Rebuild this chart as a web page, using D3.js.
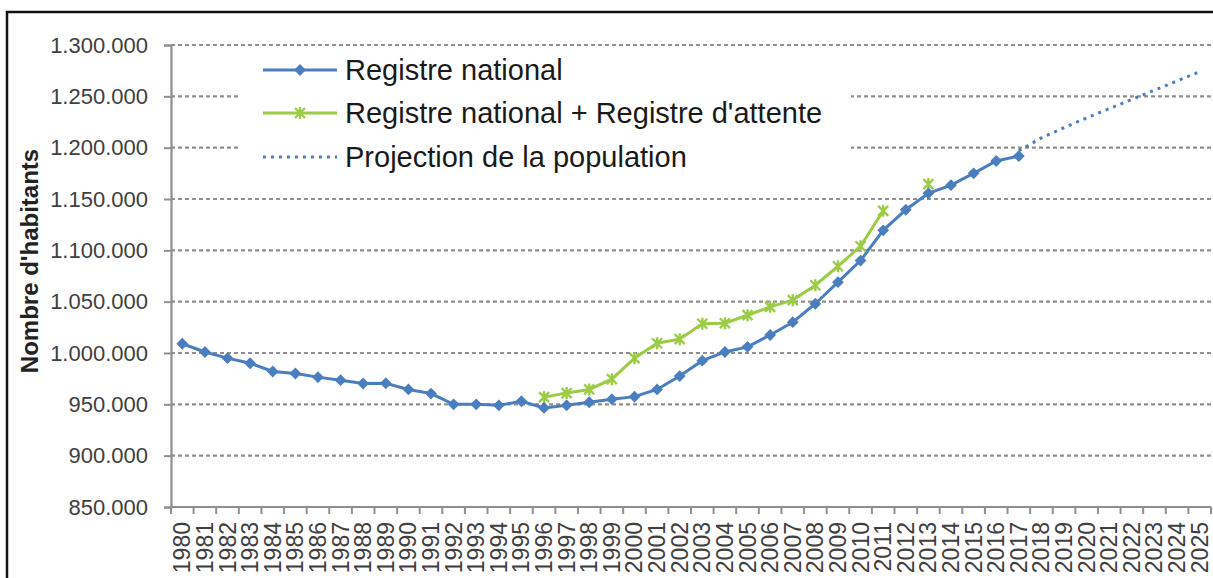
<!DOCTYPE html>
<html lang="fr">
<head>
<meta charset="UTF-8">
<title>Nombre d'habitants</title>
<script src="https://cdnjs.cloudflare.com/ajax/libs/d3/7.8.5/d3.min.js"></script>
<style>
    body { margin: 0; background: #fff; }
    svg { display: block; font-family: "Liberation Sans", Arial, sans-serif; }
</style>
</head>
<body>
<svg width="1213" height="578"></svg>
<script>
    // years 1980..2025
    var years = d3.range(1980, 2026);

    // Registre national (1980-2017)
    var registreYears = d3.range(1980, 2018);
    var registre = [1009000, 1001000, 995000, 990000, 982000, 980000, 976500, 973500, 970300, 970500,
        964500, 960500, 950000, 950000, 949000, 953000, 946500, 949000, 952000, 955000,
        957500, 964500, 977500, 992500, 1001000, 1006000, 1017500, 1030000, 1048000, 1069000,
        1090000, 1119500, 1139500, 1155500, 1163500, 1175000, 1187000, 1191800];

    // Registre national + Registre d'attente (1996-2013, no value for 2012)
    var attenteYears = d3.range(1996, 2014);
    var attente = [957000, 961000, 964500, 974500, 995000, 1009500, 1013500, 1028500, 1029000, 1036800,
        1045000, 1051500, 1066000, 1084500, 1104000, 1138500, null, 1164500];

    // Projection de la population (2017-2025)
    var projYears = d3.range(2017, 2026);
    var projection = [1197000, 1209500, 1219500, 1229000, 1238000, 1247000, 1256000, 1265000, 1274000];

    var yTicks = [850000, 900000, 950000, 1000000, 1050000, 1100000, 1150000, 1200000, 1250000, 1300000];

    var legendLabels = ["Registre national", "Registre national + Registre d'attente", "Projection de la population"];

    var blue = "#4a7ebf";
    var green = "#9acd45";
    var gridColor = "#8f8f8f";

    var svg = d3.select("svg");
    var fr = d3.formatLocale({ decimal: ",", thousands: ".", grouping: [3], currency: ["", " €"] });
    var fmt = fr.format(",d");

    var pLeft = 171, pRight = 1211, pTop = 45, pBottom = 507;

    var x = d3.scaleBand().domain(years).range([pLeft, pRight]).padding(0);
    var y = d3.scaleLinear().domain([850000, 1300000]).range([pBottom, pTop]);
    var cx = d => x(d) + x.bandwidth() / 2;

    // outer frame
    svg.append("path")
        .attr("d", "M7,600 L7,12 L1230,12")
        .attr("fill", "none")
        .attr("stroke", "#111")
        .attr("stroke-width", 2.5);

    // grid lines
    svg.append("g")
        .selectAll("line")
        .data(yTicks.filter(t => t > 850000))
        .enter()
        .append("line")
        .attr("x1", pLeft)
        .attr("x2", pRight)
        .attr("y1", d => y(d))
        .attr("y2", d => y(d))
        .attr("stroke", gridColor)
        .attr("stroke-width", 2.2)
        .attr("stroke-dasharray", "4,3");

    // y axis
    var yAxis = svg.append("g")
        .attr("transform", "translate(" + pLeft + ",0)")
        .call(d3.axisLeft(y).tickValues(yTicks).tickFormat(fmt).tickSize(7).tickPadding(16));
    yAxis.select(".domain").attr("stroke", gridColor).attr("stroke-width", 2.2);
    yAxis.selectAll(".tick line").attr("stroke", gridColor).attr("stroke-width", 2);
    yAxis.selectAll("text")
        .attr("fill", "#404040")
        .style("font-size", "22px")
        .style("font-family", "'Liberation Sans', Arial, sans-serif");

    // x axis, ticks between categories
    var xAxis = svg.append("g")
        .attr("transform", "translate(0," + pBottom + ")");
    xAxis.append("line")
        .attr("x1", pLeft - 1)
        .attr("x2", pRight)
        .attr("stroke", gridColor)
        .attr("stroke-width", 2.2);
    xAxis.selectAll("line.tk")
        .data(years.concat([2026]))
        .enter()
        .append("line")
        .attr("class", "tk")
        .attr("x1", d => d === 2026 ? pRight : x(d))
        .attr("x2", d => d === 2026 ? pRight : x(d))
        .attr("y1", 0)
        .attr("y2", 7)
        .attr("stroke", gridColor)
        .attr("stroke-width", 2);
    xAxis.selectAll("text")
        .data(years)
        .enter()
        .append("text")
        .attr("transform", d => "translate(" + (cx(d) + 8) + ",15) rotate(-90)")
        .attr("text-anchor", "end")
        .attr("fill", "#404040")
        .style("font-size", "23px")
        .text(d => d);

    // y axis title
    svg.append("text")
        .attr("transform", "translate(38,261) rotate(-90)")
        .attr("text-anchor", "middle")
        .attr("font-weight", "bold")
        .attr("fill", "#222")
        .style("font-size", "24px")
        .text("Nombre d'habitants");

    // legend background hides the grid
    svg.append("rect")
        .attr("x", 241)
        .attr("y", 53)
        .attr("width", 610)
        .attr("height", 128)
        .attr("fill", "#fff");

    function star(g, px, py, r, color) {
        g.append("path")
            .attr("d", "M" + (px - r) + "," + (py - r) + "L" + (px + r) + "," + (py + r) +
                "M" + (px + r) + "," + (py - r) + "L" + (px - r) + "," + (py + r) +
                "M" + px + "," + (py - r - 1) + "L" + px + "," + (py + r + 1))
            .attr("stroke", color)
            .attr("stroke-width", 2.4)
            .attr("fill", "none");
    }

    // square diamond marker
    var diamond = d3.symbol().type(d3.symbolSquare).size(70);

    // projection (dotted)
    var projPts = projYears.map((yr, i) => [cx(yr), y(projection[i])]);
    svg.append("path")
        .attr("d", d3.line()(projPts))
        .attr("fill", "none")
        .attr("stroke", blue)
        .attr("stroke-width", 3)
        .attr("stroke-dasharray", "3,5");

    // registre national + attente
    var attPts = attenteYears.map((yr, i) => ({ yr: yr, v: attente[i] }));
    var lineAtt = d3.line()
        .defined(d => d.v !== null)
        .x(d => cx(d.yr))
        .y(d => y(d.v));
    svg.append("path")
        .datum(attPts.filter(d => d.yr <= 2011))
        .attr("d", lineAtt)
        .attr("fill", "none")
        .attr("stroke", green)
        .attr("stroke-width", 3);

    // registre national
    var regPts = registreYears.map((yr, i) => ({ yr: yr, v: registre[i] }));
    svg.append("path")
        .datum(regPts)
        .attr("d", d3.line().x(d => cx(d.yr)).y(d => y(d.v)))
        .attr("fill", "none")
        .attr("stroke", blue)
        .attr("stroke-width", 3);

    var gAttM = svg.append("g");
    attPts.filter(d => d.v !== null).forEach(d => star(gAttM, cx(d.yr), y(d.v), 5, green));

    svg.append("g")
        .selectAll("path")
        .data(regPts)
        .enter()
        .append("path")
        .attr("d", diamond)
        .attr("transform", d => "translate(" + cx(d.yr) + "," + y(d.v) + ") rotate(45)")
        .attr("fill", blue);

    // legend
    var legend = svg.append("g");
    var rowsY = [70, 113, 157];
    legendLabels.forEach((lab, i) => {
        var ly = rowsY[i];
        var ln = legend.append("line")
            .attr("x1", 263)
            .attr("x2", 337)
            .attr("y1", ly)
            .attr("y2", ly)
            .attr("stroke", i === 1 ? green : blue)
            .attr("stroke-width", 3);
        if (i === 2) ln.attr("stroke-dasharray", "3,5");
        if (i === 0) {
            legend.append("path")
                .attr("d", diamond)
                .attr("transform", "translate(300," + ly + ") rotate(45)")
                .attr("fill", blue);
        }
        if (i === 1) star(legend, 300, ly, 5, green);
        legend.append("text")
            .attr("x", 345)
            .attr("y", ly)
            .attr("dy", "0.36em")
            .attr("fill", "#1a1a1a")
            .style("font-size", "29px")
            .text(lab);
    });
</script>
</body>
</html>
